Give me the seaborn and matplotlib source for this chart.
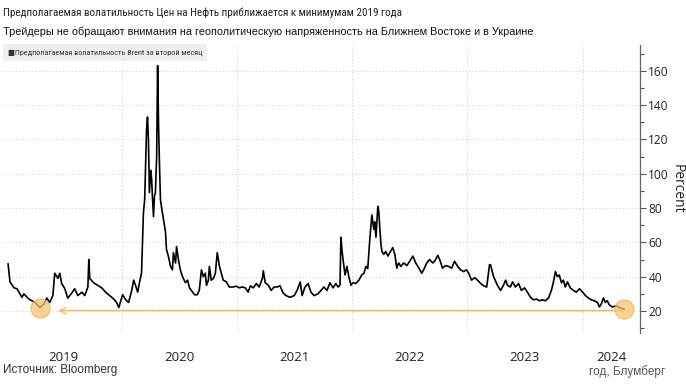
import os

import matplotlib
matplotlib.use("Agg")
import matplotlib.pyplot as plt
import matplotlib.dates as mdates
from matplotlib import font_manager
from matplotlib.ticker import MultipleLocator, FixedLocator, NullFormatter
import pandas as pd
import seaborn as sns

# Brent 2nd-month implied volatility
dates = [
    "2019-01-06", "2019-01-12", "2019-01-25", "2019-02-03", "2019-02-19", "2019-02-25",
    "2019-03-13", "2019-04-01", "2019-04-17", "2019-04-29", "2019-05-09", "2019-05-18",
    "2019-05-28", "2019-06-03", "2019-06-13", "2019-06-19", "2019-06-25", "2019-07-05",
    "2019-07-14", "2019-07-27", "2019-08-05", "2019-08-15", "2019-08-28", "2019-09-06",
    "2019-09-16", "2019-09-19", "2019-09-22", "2019-10-04", "2019-10-17", "2019-10-30",
    "2019-11-11", "2019-11-24", "2019-12-07", "2019-12-16", "2019-12-23",
    "2020-01-01", "2020-01-04", "2020-01-14", "2020-01-23", "2020-02-02", "2020-02-08",
    "2020-02-14", "2020-02-21", "2020-02-27", "2020-03-04", "2020-03-10", "2020-03-14",
    "2020-03-17", "2020-03-20", "2020-03-23", "2020-03-26", "2020-03-29", "2020-04-02",
    "2020-04-05", "2020-04-08", "2020-04-11", "2020-04-14", "2020-04-17", "2020-04-21",
    "2020-04-24", "2020-04-27", "2020-04-30", "2020-05-03", "2020-05-06", "2020-05-13",
    "2020-05-19", "2020-05-22", "2020-05-28", "2020-06-04", "2020-06-10", "2020-06-13",
    "2020-06-20", "2020-06-23", "2020-06-29", "2020-07-05", "2020-07-12", "2020-07-21",
    "2020-07-28", "2020-08-03", "2020-08-09", "2020-08-19", "2020-08-28", "2020-09-03",
    "2020-09-10", "2020-09-16", "2020-09-22", "2020-09-26", "2020-10-02", "2020-10-05",
    "2020-10-11", "2020-10-18", "2020-10-24", "2020-10-30", "2020-11-06", "2020-11-12",
    "2020-11-18", "2020-11-28", "2020-12-07", "2020-12-20", "2020-12-29",
    "2021-01-08", "2021-01-17", "2021-01-27", "2021-02-05", "2021-02-12", "2021-02-21",
    "2021-03-03", "2021-03-12", "2021-03-22", "2021-03-25", "2021-03-31", "2021-04-10",
    "2021-04-19", "2021-04-28", "2021-05-08", "2021-05-17", "2021-05-27", "2021-06-05",
    "2021-06-18", "2021-07-01", "2021-07-10", "2021-07-20", "2021-07-26", "2021-08-04",
    "2021-08-14", "2021-08-23", "2021-09-02", "2021-09-14", "2021-09-24", "2021-10-03",
    "2021-10-13", "2021-10-22", "2021-11-01", "2021-11-10", "2021-11-17", "2021-11-23",
    "2021-11-26", "2021-11-29", "2021-12-02", "2021-12-09", "2021-12-15", "2021-12-21",
    "2021-12-28",
    "2022-01-03", "2022-01-12", "2022-01-22", "2022-01-31", "2022-02-07", "2022-02-13",
    "2022-02-19", "2022-02-26", "2022-03-04", "2022-03-10", "2022-03-13", "2022-03-17",
    "2022-03-23", "2022-03-26", "2022-03-29", "2022-04-02", "2022-04-05", "2022-04-11",
    "2022-04-17", "2022-04-24", "2022-04-30", "2022-05-09", "2022-05-16", "2022-05-22",
    "2022-05-28", "2022-06-04", "2022-06-13", "2022-06-23", "2022-07-02", "2022-07-12",
    "2022-07-21", "2022-07-31", "2022-08-09", "2022-08-15", "2022-08-25", "2022-09-03",
    "2022-09-13", "2022-09-19", "2022-09-29", "2022-10-05", "2022-10-14", "2022-10-24",
    "2022-11-02", "2022-11-12", "2022-11-21", "2022-12-01", "2022-12-10", "2022-12-20",
    "2022-12-29",
    "2023-01-05", "2023-01-14", "2023-01-24", "2023-02-02", "2023-02-12", "2023-02-21",
    "2023-03-03", "2023-03-09", "2023-03-12", "2023-03-15", "2023-03-25", "2023-04-06",
    "2023-04-16", "2023-04-25", "2023-05-02", "2023-05-08", "2023-05-17", "2023-05-24",
    "2023-06-02", "2023-06-12", "2023-06-21", "2023-07-01", "2023-07-10", "2023-07-20",
    "2023-07-29", "2023-08-08", "2023-08-17", "2023-08-27", "2023-09-05", "2023-09-15",
    "2023-09-24", "2023-09-30", "2023-10-07", "2023-10-13", "2023-10-19", "2023-10-26",
    "2023-11-01", "2023-11-07", "2023-11-14", "2023-11-23", "2023-12-03", "2023-12-12",
    "2023-12-22",
    "2024-01-01", "2024-01-10", "2024-01-19", "2024-01-29", "2024-02-07", "2024-02-17",
    "2024-02-23", "2024-02-29", "2024-03-07", "2024-03-13", "2024-03-19", "2024-03-26",
    "2024-04-04", "2024-04-17", "2024-04-29", "2024-05-12",
]
vol = [
    47.6, 37, 33.5, 33, 28, 30,
    27, 25, 22, 24, 27.6, 25,
    29, 42, 39, 42, 36, 33,
    27.5, 30.5, 33, 29, 31, 29,
    34, 50, 39, 36.5, 35, 33.5,
    31, 29, 27, 25, 22,
    27.6, 29.5, 26.5, 25, 32, 38,
    35, 31, 37, 42, 77, 85,
    105, 126, 133, 119, 89, 102,
    97, 85, 75, 87, 89, 110,
    163, 128, 105, 85, 81, 73,
    66, 56, 52, 46, 44, 54,
    48, 57.6, 50, 44, 40, 36.5,
    38, 33.5, 32, 29.5, 29.5, 32,
    44, 40, 42, 35, 38, 46,
    38, 39, 42, 54, 46, 42,
    38, 37, 34, 34, 34.5,
    33.5, 34, 33.5, 31, 34.7, 33.5,
    36, 34, 39, 43.5, 36.5, 35,
    32, 34, 34, 34.7, 30.5, 29,
    28, 29, 32, 37, 29, 34,
    36, 31, 29, 30, 32, 34,
    32, 36.5, 33.5, 36, 34, 35,
    63, 56, 51, 41, 46, 40,
    35,
    36.5, 36, 38, 41, 42, 46,
    44.7, 63, 76, 67.6, 72, 63,
    81, 78, 69, 58.6, 54.7, 53,
    54.7, 52, 54, 57, 53, 45,
    48, 46, 48, 46.5, 49, 52,
    48, 45, 42, 44, 48, 50,
    48, 49, 52.4, 50, 45, 46.5,
    46, 45, 49, 46, 44, 43,
    44,
    42, 38, 39.4, 38, 36, 34.7,
    34, 43, 47, 47, 40, 35,
    32, 35, 38, 35, 34, 37,
    34, 36, 32, 33.5, 31, 28,
    26.5, 27, 26, 26.5, 26, 27.6,
    32, 36.5, 43, 40, 41, 36.5,
    38, 34, 37, 33.5, 32, 31,
    33,
    31, 29, 27.6, 26.5, 26, 25,
    22.4, 24, 27.6, 25, 26, 23.5,
    22.4, 23, 21.8, 21,
]

# highlighted lows: 2019 low and latest reading
low_dates = ["2019-04-17", "2024-05-12"]
low_vals = [22, 21]

year_labels = ["2019", "2020", "2021", "2022", "2023", "2024"]
year_label_pos = ["2019-07-02", "2020-07-02", "2021-07-02", "2022-07-02", "2023-07-02", "2024-04-01"]
year_starts = ["2020-01-01", "2021-01-01", "2022-01-01", "2023-01-01", "2024-01-01"]

title = "Предполагаемая волатильность Цен на Нефть приближается к минимумам 2019 года"
subtitle = "Трейдеры не обращают внимания на геополитическую напряженность на Ближнем Востоке и в Украине"
series_name = "Предполагаемая волатильность Brent за второй месяц"

sns.set_theme(style="white")
plt.rcParams["font.family"] = ["Liberation Sans", "DejaVu Sans"]

# narrow face for title / legend, whichever condensed file is there
narrow_family, narrow_stretch, narrow_scale = "Liberation Sans", "normal", 0.82
by_file = {os.path.basename(f.fname): f for f in font_manager.fontManager.ttflist}
for fn, sc in [("LiberationSansNarrow-Regular.ttf", 1.0), ("RobotoCondensed-Regular.ttf", 0.82),
               ("DejaVuSansCondensed.ttf", 0.72)]:
    if fn in by_file:
        entry = by_file[fn]
        narrow_family, narrow_stretch, narrow_scale = entry.name, entry.stretch, sc
        break


def narrow_kw(size):
    return dict(family=[narrow_family, "DejaVu Sans"], fontstretch=narrow_stretch,
                fontsize=size * narrow_scale)


tick_family = ["Open Sans", "DejaVu Sans"]

df = pd.DataFrame({"date": pd.to_datetime(dates), "vol": vol})
lows = pd.DataFrame({"date": pd.to_datetime(low_dates), "vol": low_vals})

fig = plt.figure(figsize=(6.86, 3.84), dpi=100)
ax = fig.add_axes([0.003, 1 - 333 / 384, 0.930, (333 - 45) / 384])

sns.lineplot(data=df, x="date", y="vol", color="black", linewidth=1.2, ax=ax)

ax.set_xlim(pd.Timestamp("2018-12-18"), pd.Timestamp("2024-07-01"))
ax.set_ylim(7.2, 175)

grid_style = dict(color="#d2d2d2", linestyle=(0, (1, 2)), linewidth=0.8)

ax.yaxis.set_major_locator(MultipleLocator(20))
ax.yaxis.set_minor_locator(MultipleLocator(10))
ax.yaxis.tick_right()
ax.yaxis.set_label_position("right")
ax.tick_params(axis="y", which="major", direction="out", length=4, width=0.8,
               color="#555555", labelsize=8.6, pad=2, labelcolor="#222222",
               right=True, left=False)
ax.tick_params(axis="y", which="minor", direction="out", length=3, width=0.8,
               color="#555555", right=True, left=False)
for lab in ax.get_yticklabels():
    lab.set_fontfamily(tick_family)
ax.grid(axis="y", which="major", **grid_style)

ax.xaxis.set_major_locator(FixedLocator(mdates.date2num(pd.to_datetime(year_starts))))
ax.xaxis.set_major_formatter(NullFormatter())
ax.xaxis.set_minor_locator(FixedLocator(mdates.date2num(pd.to_datetime(year_label_pos))))
ax.set_xticklabels(year_labels, minor=True)
ax.tick_params(axis="x", which="both", length=0, labelsize=9.5, pad=13, labelcolor="#222222")
for lab in ax.get_xticklabels(minor=True):
    lab.set_fontfamily(tick_family)
ax.grid(axis="x", which="major", **grid_style)

for side in ["left", "top", "bottom"]:
    ax.spines[side].set_visible(False)
ax.spines["right"].set_color("#666666")
ax.spines["right"].set_linewidth(0.9)

# 2019 low -> latest reading
ax.annotate("", xy=(pd.Timestamp("2019-06-13"), 20.3), xytext=(pd.Timestamp("2024-05-04"), 20.3),
            arrowprops=dict(arrowstyle="->", color="#f0b756", linestyle=(0, (1, 1)),
                            linewidth=1.1, mutation_scale=12, shrinkA=0, shrinkB=0))
sns.scatterplot(data=lows, x="date", y="vol", s=190, color="#f6c470", alpha=0.75,
                edgecolor="#eeb04c", linewidth=0.8, ax=ax, zorder=5)
ax.set_xlabel("")
ax.set_ylabel("Percent", rotation=270, fontsize=10, labelpad=11, color="#222222",
              fontfamily=tick_family)

# pseudo legend box
ax.text(0.009, 0.985, "■" + series_name, transform=ax.transAxes, ha="left", va="top",
        color="#333333", **narrow_kw(7.2),
        bbox=dict(boxstyle="square,pad=0.6", facecolor="#efefef", edgecolor="none"), zorder=6)

fig.text(0.005, 1 - 13 / 384, title, ha="left", va="center", color="#222222", **narrow_kw(9.8))
fig.text(0.005, 1 - 32 / 384, subtitle, ha="left", va="center", fontsize=7.8,
         color="#111111")
fig.text(0.005, 1 - 370 / 384, "Источник: Bloomberg", ha="left", va="center", fontsize=8.5,
         color="#333333")
fig.text(0.97, 1 - 372 / 384, "год, Блумберг", ha="right", va="center", fontsize=8.5,
         color="#555555")

fig.savefig("out.png", dpi=100)
